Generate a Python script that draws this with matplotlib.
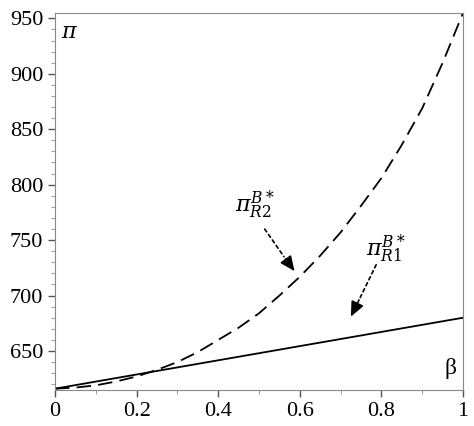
import matplotlib.pyplot as plt
from matplotlib.ticker import MultipleLocator

beta = [0.0, 0.05, 0.1, 0.15, 0.2, 0.25, 0.3, 0.35, 0.4, 0.45, 0.5,
        0.55, 0.6, 0.65, 0.7, 0.75, 0.8, 0.85, 0.9, 0.95, 1.0]
pi_r2 = [616, 617, 619, 622.5, 627, 633, 640, 649, 660, 671, 684,
         700, 717, 736, 757, 781, 806, 836, 869, 910, 955]
beta_r1 = [0.0, 1.0]
pi_r1 = [616, 680]

plt.rcParams['font.family'] = ['Liberation Serif', 'DejaVu Serif']
plt.rcParams['mathtext.fontset'] = 'dejavuserif'

fig = plt.figure(figsize=(4.74, 4.26), dpi=100)
ax = fig.add_axes([0.116, 0.085, 0.861, 0.885])

ax.plot(beta, pi_r2, color='black', lw=1.3, ls=(0, (8, 4)))
ax.plot(beta_r1, pi_r1, color='black', lw=1.3)

ax.set_xlim(0, 1)
ax.set_ylim(615, 955)
ax.set_xticks([0, 0.2, 0.4, 0.6, 0.8, 1])
ax.set_xticklabels(['0', '0.2', '0.4', '0.6', '0.8', '1'])
ax.set_yticks([650, 700, 750, 800, 850, 900, 950])
ax.xaxis.set_minor_locator(MultipleLocator(0.1))
ax.yaxis.set_minor_locator(MultipleLocator(10))
ax.tick_params(labelsize=16, length=5, width=1, color='#555555')
ax.tick_params(which='minor', length=3, color='#888888')
for s in ax.spines.values():
    s.set_color('#888888')

ax.text(0.015, 945, r'$\pi$', fontsize=16, va='top')
ax.text(0.985, 625, 'β', fontsize=17, ha='right', va='bottom')


def dotted_arrow(start, end, head_from):
    # dotted shaft, then a solid head on the last bit
    ax.annotate('', xy=head_from, xytext=start,
                arrowprops=dict(arrowstyle='-', ls=(0, (2, 2)), color='black', lw=1.2))
    ax.annotate('', xy=end, xytext=head_from,
                arrowprops=dict(arrowstyle='-|>,head_length=0.9,head_width=0.4',
                                color='black', lw=1.2, shrinkA=0, shrinkB=0))


ax.text(0.49, 782, r'$\pi_{R2}^{B*}$', fontsize=16, ha='center', va='center')
dotted_arrow((0.51, 762), (0.587, 722), (0.565, 733))
ax.text(0.81, 742, r'$\pi_{R1}^{B*}$', fontsize=16, ha='center', va='center')
dotted_arrow((0.79, 730), (0.725, 681), (0.745, 696))

fig.savefig('out.png', dpi=100)
